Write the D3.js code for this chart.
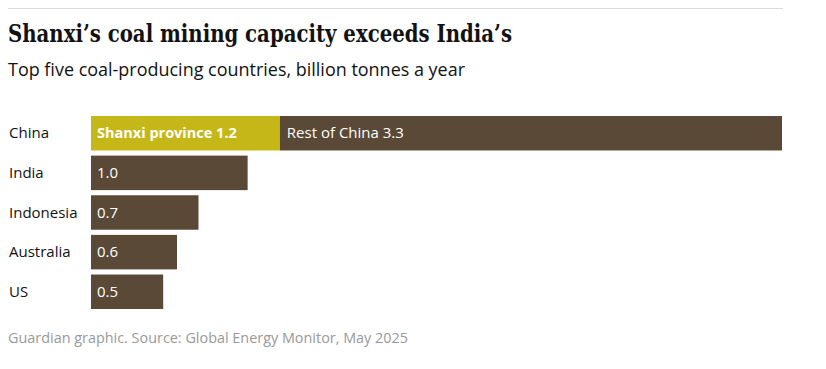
<html>
<head>
<meta charset="utf-8">
<title>Shanxi coal</title>
<style type="text/css">
* { margin: 0; padding: 0; }
body { background: #fff; }
text.country { font-family: "Open Sans", sans-serif; font-size: 15px; fill: #121212; }
text.val { font-family: "Open Sans", sans-serif; font-size: 15px; fill: #fff; }
</style>
<script type="text/javascript" src="https://cdn.jsdelivr.net/npm/d3@7"></script>
</head>
<body>
<div id="chart"></div>
<script type="text/javascript">
// values in billion tonnes a year
var countries = ["China", "India", "Indonesia", "Australia", "US"];
var shanxi = 1.23;
var restOfChina = 3.27;
var others = [1.02, 0.70, 0.56, 0.47];
var valueLabels = ["1.0", "0.7", "0.6", "0.5"];

var svg = d3.select("#chart").append("svg")
  .attr("width", 826).attr("height", 369);

svg.append("line")
  .attr("x1", 8).attr("x2", 783).attr("y1", 8.5).attr("y2", 8.5)
  .attr("stroke", "#dcdcdc").attr("stroke-width", 1);

svg.append("text")
  .attr("x", 8).attr("y", 42)
  .attr("textLength", 504).attr("lengthAdjust", "spacingAndGlyphs")
  .style("font-family", "'DejaVu Serif', serif")
  .style("font-weight", "bold").style("font-size", "25px").style("fill", "#121212")
  .text("Shanxi\u2019s coal mining capacity exceeds India\u2019s");

svg.append("text")
  .attr("x", 8).attr("y", 76)
  .attr("textLength", 457).attr("lengthAdjust", "spacingAndGlyphs")
  .style("font-family", "'Open Sans', sans-serif").style("font-size", "17.5px").style("fill", "#121212")
  .text("Top five coal-producing countries, billion tonnes a year");

var x = d3.scaleLinear().domain([0, 4.5]).range([91, 782]);
var y = d3.scaleBand().domain(countries).range([116, 309]).paddingInner(0.13).paddingOuter(0);

svg.selectAll("text.country").data(countries).enter().append("text")
  .attr("class", "country")
  .attr("x", 9)
  .attr("y", function(d) { return y(d) + y.bandwidth() / 2; })
  .attr("dy", "0.35em")
  .text(function(d) { return d; });

var brown = "#594936";
var yellow = "#c6b719";

// China split bar
svg.append("rect")
  .attr("x", x(0)).attr("y", y("China"))
  .attr("width", x(shanxi) - x(0)).attr("height", y.bandwidth())
  .attr("fill", yellow);
svg.append("rect")
  .attr("x", x(shanxi)).attr("y", y("China"))
  .attr("width", x(shanxi + restOfChina) - x(shanxi)).attr("height", y.bandwidth())
  .attr("fill", brown);

svg.append("text").attr("class", "val")
  .attr("x", x(0) + 6).attr("y", y("China") + y.bandwidth() / 2).attr("dy", "0.35em")
  .style("font-weight", "bold").style("font-size", "14.5px")
  .text("Shanxi province 1.2");
svg.append("text").attr("class", "val")
  .attr("x", x(shanxi) + 7).attr("y", y("China") + y.bandwidth() / 2).attr("dy", "0.35em")
  .text("Rest of China 3.3");

var rest = countries.slice(1);
svg.selectAll("rect.other").data(others).enter().append("rect")
  .attr("class", "other")
  .attr("x", x(0))
  .attr("y", function(d, i) { return y(rest[i]); })
  .attr("width", function(d) { return x(d) - x(0); })
  .attr("height", y.bandwidth())
  .attr("fill", brown);

svg.selectAll("text.otherval").data(others).enter().append("text")
  .attr("class", "val otherval")
  .attr("x", x(0) + 6)
  .attr("y", function(d, i) { return y(rest[i]) + y.bandwidth() / 2; })
  .attr("dy", "0.35em")
  .text(function(d, i) { return valueLabels[i]; });

svg.append("text")
  .attr("x", 8).attr("y", 343)
  .attr("textLength", 400).attr("lengthAdjust", "spacingAndGlyphs")
  .style("font-family", "'Open Sans', sans-serif").style("font-size", "14px").style("fill", "#999")
  .text("Guardian graphic. Source: Global Energy Monitor, May 2025");
</script>
</body>
</html>
